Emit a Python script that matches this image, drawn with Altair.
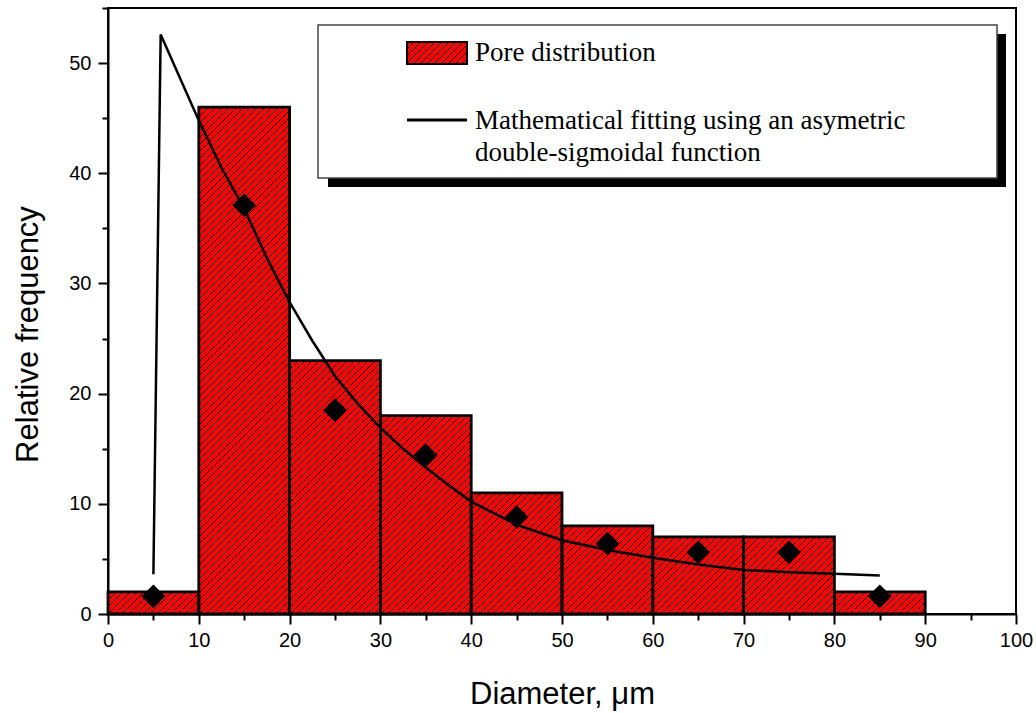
import altair as alt
import pandas as pd

# ---------------- data ----------------
bin_left = [0, 10, 20, 30, 40, 50, 60, 70, 80]
bin_right = [10, 20, 30, 40, 50, 60, 70, 80, 90]
freq = [2, 46, 23, 18, 11, 8, 7, 7, 2]

pt_x = [5, 15, 25, 35, 45, 55, 65, 75, 85]
pt_y = [1.6, 37.1, 18.5, 14.4, 8.8, 6.4, 5.6, 5.6, 1.6]

fit_x = [5, 5.8, 10, 12.5, 15, 17.5, 20, 22.5, 25, 27.5, 30, 32.5, 35, 37.5,
         40, 45, 50, 55, 60, 65, 70, 75, 80, 85]
fit_y = [3.6, 52.6, 44.8, 40.5, 36.8, 32.3, 28.3, 24.8, 21.6, 19.1, 16.9, 15.0,
         13.3, 11.7, 10.2, 8.1, 6.7, 5.8, 5.1, 4.5, 4.0, 3.8, 3.65, 3.5]

x_ticks = list(range(0, 101, 5))
y_ticks = list(range(0, 56, 5))

legend_bar = "Pore distribution"
legend_line = ["Mathematical fitting using an asymetric", "double-sigmoidal function"]

# ---------------- layout ----------------
W, H = 908, 606
XMAX, YMAX = 100, 55
sx, sy = W / XMAX, H / YMAX
SPACING = 7.0  # hatch spacing in px

bars = pd.DataFrame({"x0": bin_left, "x1": bin_right, "y": freq, "y0": [0] * len(freq)})
pts = pd.DataFrame({"x": pt_x, "y": pt_y})
fit = pd.DataFrame({"x": fit_x, "y": fit_y, "o": list(range(len(fit_x)))})


def hatch_rect(X0, X1, Yb, Yt):
    """/// hatch lines clipped to a pixel rectangle (Y upward); returns data-space segments."""
    rows = []
    k0 = int((X0 - Yt) // SPACING) - 1
    k1 = int(X1 // SPACING) + 2
    for k in range(k0, k1):
        c = k * SPACING  # line: X - Y = c
        xs = max(X0, c + Yb)
        xe = min(X1, c + Yt)
        if xe - xs > 0.5:
            rows.append({"hx": xs / sx, "hy": (xs - c) / sy,
                         "hx2": xe / sx, "hy2": (xe - c) / sy})
    return rows


hrows = []
for a, b, h in zip(bin_left, bin_right, freq):
    hrows += hatch_rect(a * sx, b * sx, 0, h * sy)
hatch = pd.DataFrame(hrows)

# legend swatch (plot pixel coords, y from top)
SW_X0, SW_X1, SW_Y0, SW_Y1 = 299, 359, 34, 56
sw_rows = hatch_rect(SW_X0, SW_X1, H - SW_Y1, H - SW_Y0)
sw_hatch = pd.DataFrame(sw_rows)

xscale = alt.Scale(domain=[0, XMAX], nice=False, zero=False)
yscale = alt.Scale(domain=[0, YMAX], nice=False, zero=False)

tick_cond = {"condition": {"test": "datum.value % 10 != 0", "value": 6}, "value": 10}

common_axis = dict(
    domainColor="black", domainWidth=2, tickColor="black", tickWidth=2,
    labelFont="Liberation Sans", labelFontSize=20, labelColor="black",
    titleFont="Liberation Sans", titleFontSize=31, titleFontWeight="normal",
    titleColor="black", labelFlush=False, labelOverlap=False, grid=False,
    labelExpr="datum.value % 10 == 0 ? datum.label : ''", tickSize=tick_cond,
)

xaxis = alt.Axis(values=x_ticks, title="Diameter, μm", titleX=454, titleY=80,
                 titleBaseline="middle", titleAlign="center", labelPadding=6,
                 **common_axis)
yaxis = alt.Axis(values=y_ticks, title="Relative frequency", titleX=-80, titleY=326,
                 titleAngle=270, titleBaseline="middle", titleAlign="center",
                 labelPadding=7, **common_axis)

base_bars = alt.Chart(bars)
fill_layer = base_bars.mark_rect(fill="#FF0000", strokeWidth=0).encode(
    x=alt.X("x0:Q", scale=xscale, axis=xaxis),
    x2="x1:Q",
    y=alt.Y("y:Q", scale=yscale, axis=yaxis),
    y2="y0:Q",
)
hatch_layer = alt.Chart(hatch).mark_rule(color="black", strokeWidth=1).encode(
    x="hx:Q", y="hy:Q", x2="hx2:Q", y2="hy2:Q"
)
outline_layer = base_bars.mark_rect(fillOpacity=0, stroke="black", strokeWidth=2.8).encode(
    x="x0:Q", x2="x1:Q", y="y:Q", y2="y0:Q"
)
line_layer = alt.Chart(fit).mark_line(color="black", strokeWidth=2.5).encode(
    x="x:Q", y="y:Q", order="o:Q"
)
pt_layer = alt.Chart(pts).mark_point(shape="diamond", filled=True, color="black",
                                     size=560, opacity=1).encode(x="x:Q", y="y:Q")

one = pd.DataFrame({"a": [0]})
shadow = alt.Chart(one).mark_rect(fill="black").encode(
    x=alt.value(220), x2=alt.value(898), y=alt.value(26), y2=alt.value(179))
box = alt.Chart(one).mark_rect(fill="white", stroke="#444444", strokeWidth=1.5).encode(
    x=alt.value(210), x2=alt.value(889), y=alt.value(17), y2=alt.value(170))
sw_fill = alt.Chart(one).mark_rect(fill="#FF0000").encode(
    x=alt.value(SW_X0), x2=alt.value(SW_X1), y=alt.value(SW_Y0), y2=alt.value(SW_Y1))
sw_hatch_layer = alt.Chart(sw_hatch).mark_rule(color="black", strokeWidth=1).encode(
    x="hx:Q", y="hy:Q", x2="hx2:Q", y2="hy2:Q")
sw_outline = alt.Chart(one).mark_rect(fillOpacity=0, stroke="black", strokeWidth=2).encode(
    x=alt.value(SW_X0), x2=alt.value(SW_X1), y=alt.value(SW_Y0), y2=alt.value(SW_Y1))
sw_line = alt.Chart(one).mark_rule(color="black", strokeWidth=3).encode(
    x=alt.value(299), x2=alt.value(359), y=alt.value(112))

txt_kw = dict(font="Liberation Serif", fontSize=27, align="left", baseline="middle", color="black")
t1 = alt.Chart(one).mark_text(text=legend_bar, **txt_kw).encode(x=alt.value(367), y=alt.value(45))
t2 = alt.Chart(one).mark_text(text=legend_line[0], **txt_kw).encode(x=alt.value(367), y=alt.value(113))
t3 = alt.Chart(one).mark_text(text=legend_line[1], **txt_kw).encode(x=alt.value(367), y=alt.value(145))

chart = alt.layer(
    fill_layer, hatch_layer, outline_layer, line_layer, pt_layer,
    shadow, box, sw_fill, sw_hatch_layer, sw_outline, sw_line, t1, t2, t3
).properties(
    width=W, height=H,
    background="white",
    autosize=alt.AutoSizeParams(type="none"),
    padding={"left": 108, "top": 8, "right": 20, "bottom": 99},
).configure_view(
    stroke="black", strokeWidth=2
)

chart.save("out.html", embed_options={"renderer": "svg", "actions": False})
